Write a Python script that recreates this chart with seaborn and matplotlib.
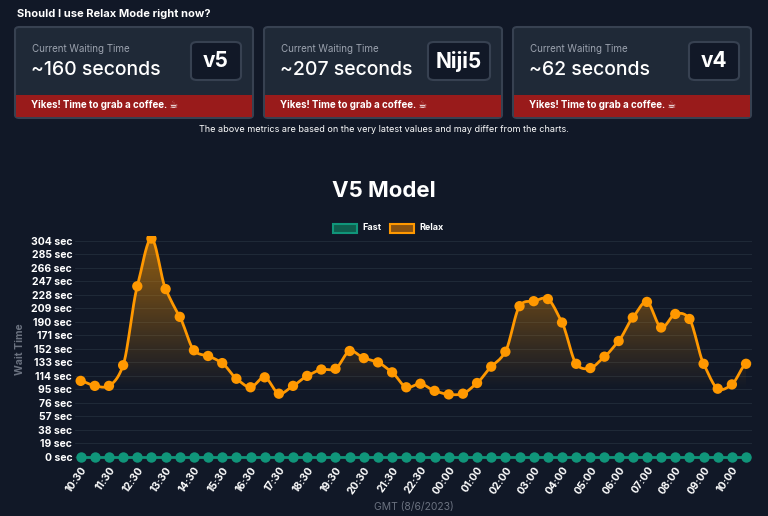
import matplotlib.pyplot as plt
import matplotlib.patches as mpatches
import numpy as np
import pandas as pd
import seaborn as sns

time_labels = ["10:30", "11:30", "12:30", "13:30", "14:30", "15:30", "16:30", "17:30",
               "18:30", "19:30", "20:30", "21:30", "22:30", "00:00", "01:00", "02:00",
               "03:00", "04:00", "05:00", "06:00", "07:00", "08:00", "09:00", "10:00"]
relax = [107, 100, 100, 129, 240, 307, 236, 197, 150, 142, 132, 110, 98, 112, 89, 100,
         114, 123, 124, 149, 139, 133, 119, 98, 103, 93, 88, 89, 104, 127, 148, 212,
         219, 222, 189, 131, 125, 141, 163, 196, 218, 182, 201, 194, 131, 96, 102, 131]
fast = [0] * len(relax)
y_ticks = [0, 19, 38, 57, 76, 95, 114, 133, 152, 171, 190, 209, 228, 247, 266, 285, 304]

models = ["v5", "Niji5", "v4"]
waits = ["~160 seconds", "~207 seconds", "~62 seconds"]

BG = "#111827"
CARD = "#1f2937"
EDGE = "#374151"
RED = "#991b1b"
ORANGE = "#ff9800"
GREEN = "#10957a"
W, H = 768, 516


def px(x, y):
    return x / W, 1 - y / H


def smooth(x, y, n=12):
    # cubic hermite curve through the points, only used for the drawn line
    xs, ys = [], []
    for i in range(len(x) - 1):
        y0 = y[max(i - 1, 0)]
        y3 = y[min(i + 2, len(y) - 1)]
        m1 = (y[i + 1] - y0) * 0.4
        m2 = (y3 - y[i]) * 0.4
        s = np.linspace(0, 1, n, endpoint=False)
        h00 = 2 * s**3 - 3 * s**2 + 1
        h10 = s**3 - 2 * s**2 + s
        h01 = -2 * s**3 + 3 * s**2
        h11 = s**3 - s**2
        xs.extend(x[i] + s)
        ys.extend(h00 * y[i] + h10 * m1 + h01 * y[i + 1] + h11 * m2)
    xs.append(x[-1])
    ys.append(y[-1])
    return np.array(xs), np.array(ys)


sns.set_style("dark")
plt.rcParams["font.family"] = ["Inter", "DejaVu Sans"]

fig = plt.figure(figsize=(W / 100, H / 100), dpi=100, facecolor=BG)

fig.text(*px(17, 14), "Should I use Relax Mode right now?", color="white",
         fontsize=8, fontweight="bold", va="center")

for i, (model, wait) in enumerate(zip(models, waits)):
    x0 = 15 + i * 249
    card = mpatches.FancyBboxPatch(px(x0, 118), 238 / W, 91 / H,
                                   boxstyle="round,pad=0,rounding_size=0.006",
                                   transform=fig.transFigure, facecolor=CARD,
                                   edgecolor=EDGE, linewidth=1.5)
    fig.patches.append(card)
    fig.patches.append(mpatches.Rectangle(px(x0 + 1, 117), 236 / W, 22 / H,
                                          transform=fig.transFigure, facecolor=RED,
                                          edgecolor="none", linewidth=0))
    fig.text(*px(x0 + 17, 49), "Current Waiting Time", color="#9ca3af", fontsize=7, va="center")
    fig.text(*px(x0 + 16, 70), wait, color="white", fontsize=14, fontweight="medium", va="center")
    fig.text(*px(x0 + 16, 105), "Yikes! Time to grab a coffee. \u2615", color="white",
             fontsize=7, fontweight="bold", va="center")
    bw = 50 if model != "Niji5" else 62
    bx = x0 + 226 - bw
    fig.patches.append(mpatches.FancyBboxPatch(px(bx, 80), bw / W, 38 / H,
                                               boxstyle="round,pad=0,rounding_size=0.008",
                                               transform=fig.transFigure, facecolor=BG,
                                               edgecolor=EDGE, linewidth=1.5))
    fig.text(*px(bx + bw / 2, 61), model, color="white", fontsize=15,
             fontweight="bold", ha="center", va="center")

fig.text(*px(384, 129), "The above metrics are based on the very latest values and may differ from the charts.",
         color="white", fontsize=6.5, ha="center", va="center")
fig.text(*px(384, 191), "V5 Model", color="white", fontsize=16, fontweight="bold",
         ha="center", va="center")

# legend
for lx, label, fc, ec in [(333, "Fast", "#0f5e4e", GREEN), (390, "Relax", "#8a5210", ORANGE)]:
    fig.patches.append(mpatches.Rectangle(px(lx, 233), 24 / W, 9 / H,
                                          transform=fig.transFigure, facecolor=fc,
                                          edgecolor=ec, linewidth=1.5))
    fig.text(*px(lx + 29, 228), label, color="white", fontsize=6.5,
             fontweight="bold", va="center")

ax = fig.add_axes([75 / W, 1 - 462 / H, 677 / W, 226 / H])
ax.set_facecolor(BG)
idx = np.arange(len(relax))
df = pd.DataFrame({"idx": idx, "relax": relax, "fast": fast})

sx, sy = smooth(idx, np.array(relax, dtype=float))
# gradient fill under the relax curve
rgba = np.zeros((256, 1, 4))
rgba[..., 0] = 1.0
rgba[..., 1] = 0.6
rgba[..., 3] = np.linspace(0.55, 0.0, 256).reshape(-1, 1)
img = ax.imshow(rgba, extent=[idx[0], idx[-1], 95, 310], aspect="auto", origin="upper",
                zorder=1)
clip = mpatches.Polygon(np.column_stack([np.r_[sx, sx[-1], sx[0]], np.r_[sy, 95, 95]]),
                        transform=ax.transData, facecolor="none", edgecolor="none")
ax.add_patch(clip)
img.set_clip_path(clip)

ax.plot(sx, sy, color=ORANGE, linewidth=2, zorder=3)
sns.scatterplot(data=df, x="idx", y="relax", color=ORANGE, s=55, edgecolor="none",
                zorder=4, ax=ax, legend=False)
sns.lineplot(data=df, x="idx", y="fast", color=GREEN, linewidth=2, marker="o",
             markersize=7.5, markeredgewidth=0, zorder=4, ax=ax)

ax.set_xlim(-0.4, 47.42)
ax.set_ylim(-7, 310.6)
ax.set_yticks(y_ticks)
ax.set_yticklabels([f"{v} sec" for v in y_ticks], color="white", fontsize=7.5, fontweight="bold")
ax.set_xticks(idx[::2])
ax.set_xticklabels(time_labels, rotation=55, ha="right", rotation_mode="anchor",
                   color="white", fontsize=7.5, fontweight="bold")
ax.tick_params(length=0, pad=2)
ax.grid(axis="y", color="#1f2937", linewidth=0.8)
ax.grid(axis="x", visible=False)
for s in ax.spines.values():
    s.set_visible(False)
ax.set_xlabel("GMT (8/6/2023)", color="#6b7280", fontsize=7.5, labelpad=4)
ax.set_ylabel("Wait Time", color="#6b7280", fontsize=7.5, fontweight="bold", labelpad=4)

fig.savefig("out.png", dpi=100, facecolor=BG)
